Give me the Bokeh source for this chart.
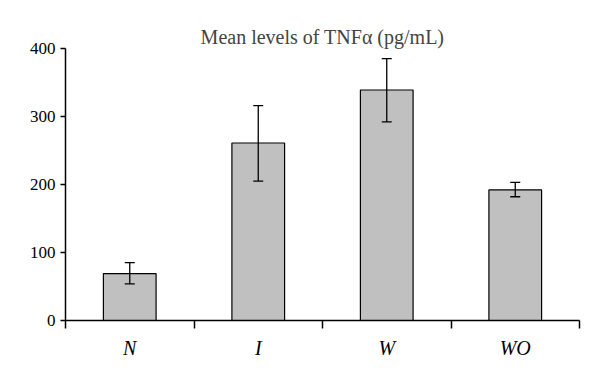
from bokeh.plotting import figure
from bokeh.models import Range1d, FixedTicker, Whisker, ColumnDataSource, LinearAxis
from bokeh.embed import file_html
from bokeh.resources import INLINE

categories = ["N", "I", "W", "WO"]
means = [69, 261, 339, 192]
err_low = [54, 205, 292, 182]
err_high = [85, 316, 385, 203]
y_ticks = [0, 100, 200, 300, 400]

x = [i + 0.5 for i in range(len(categories))]
boundaries = [float(i) for i in range(len(categories) + 1)]
src = ColumnDataSource(dict(x=x, top=means, lower=err_low, upper=err_high))

FONT = "Liberation Serif"

p = figure(width=592, height=373, x_range=Range1d(0, len(categories)), y_range=Range1d(0, 400),
           output_backend="svg", toolbar_location=None, x_axis_type=None, y_axis_type=None,
           min_border_left=65, min_border_right=13, min_border_top=48, min_border_bottom=53,
           title="Mean levels of TNFα (pg/mL)")
p.title.align = "center"
p.title.text_font = FONT
p.title.text_font_size = "20px"
p.title.text_font_style = "normal"
p.title.standoff = 2
p.title.offset = -6
p.outline_line_color = None
p.grid.visible = False

p.vbar(x="x", top="top", bottom=0, width=0.41, fill_color="#c0c0c0", line_color="black",
       line_width=1.2, source=src)

w = Whisker(source=src, base="x", upper="upper", lower="lower", line_color="black",
            line_width=1.3, level="overlay")
w.upper_head.size = 10
w.lower_head.size = 10
w.upper_head.line_color = "black"
w.lower_head.line_color = "black"
w.upper_head.line_width = 1.3
w.lower_head.line_width = 1.3
p.add_layout(w)

xaxis = LinearAxis(ticker=FixedTicker(ticks=x, minor_ticks=boundaries),
                   major_label_overrides={xi: c for xi, c in zip(x, categories)})
xaxis.major_tick_out = 0
xaxis.major_tick_in = 0
xaxis.minor_tick_out = 8
xaxis.minor_tick_in = 0
xaxis.minor_tick_line_color = "black"
xaxis.minor_tick_line_width = 1.5
xaxis.axis_line_color = "black"
xaxis.axis_line_width = 1.5
xaxis.major_label_text_font = FONT
xaxis.major_label_text_font_style = "italic"
xaxis.major_label_text_font_size = "20px"
xaxis.major_label_text_color = "black"
xaxis.major_label_standoff = 8
p.add_layout(xaxis, "below")

yaxis = LinearAxis(ticker=FixedTicker(ticks=y_ticks, minor_ticks=[]))
yaxis.major_tick_out = 5
yaxis.major_tick_in = 0
yaxis.major_tick_line_color = "black"
yaxis.major_tick_line_width = 1.5
yaxis.axis_line_color = "black"
yaxis.axis_line_width = 1.5
yaxis.major_label_text_font = FONT
yaxis.major_label_text_font_size = "17px"
yaxis.major_label_text_color = "black"
yaxis.major_label_standoff = 5
p.add_layout(yaxis, "left")

open("out.html", "w").write(file_html(p, INLINE))
